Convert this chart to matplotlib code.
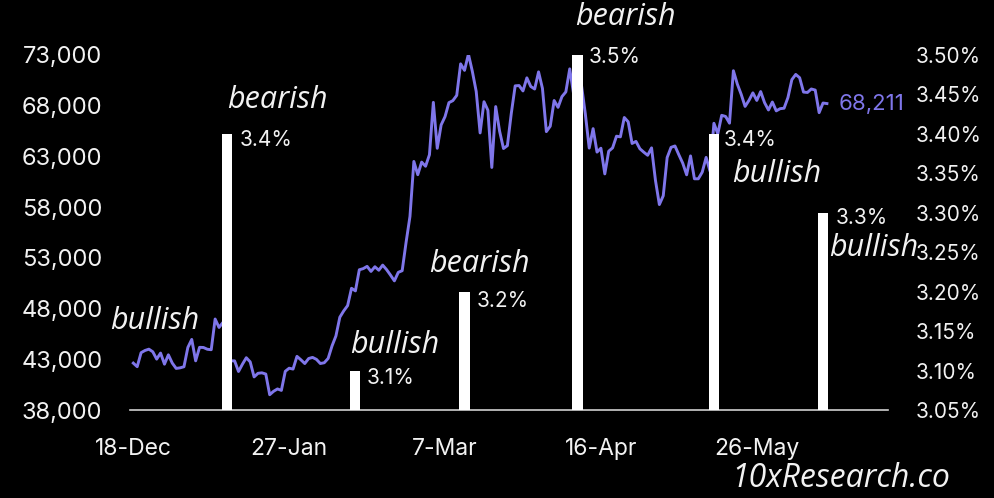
import matplotlib
matplotlib.use('Agg')
import matplotlib.pyplot as plt
import matplotlib.ticker as mticker
import pandas as pd

plt.rcParams['font.family'] = ['Inter', 'DejaVu Sans']

# BTC daily price, 18-Dec-2023 .. 13-Jun-2024
dates = pd.date_range('2023-12-18', '2024-06-13', freq='D')
btc = [
    42623, 42270, 43652, 43869, 43997, 43740, 43016, 43613, 42520, 43442, 42627, 42099, 42156, 42265,
    44167, 44957, 42848, 44179, 44162, 43989, 43943, 46970, 46139, 46627, 46368, 42853, 42842, 41796,
    42511, 43154, 42742, 41262, 41618, 41665, 41545, 39507, 39845, 40077, 39934, 41816, 42120, 42035,
    43288, 42952, 42582,
    43075, 43185, 42992, 42583, 42658, 43084, 44318, 45301, 47147, 47771, 48293, 50000, 49742, 51826,
    51938, 52160, 51663, 52122, 51779, 52284, 51839, 51304, 50731, 51571, 51733, 54522, 57085, 62504,
    61198,
    62440, 62029, 63168, 68330, 63801, 66106, 66925, 68300, 68498, 69019, 72123, 71482, 73083, 71396,
    69403, 65315, 68391, 67548, 61912, 67913, 65492, 63779, 64062, 67234, 69958, 69987, 69455, 70744,
    69892, 69645, 71333,
    69702, 65446, 65980, 68508, 67837, 68896, 69362, 71631, 69139, 70587, 70060, 67195, 63821, 65738,
    63426, 63811, 61276, 63512, 63843, 64994, 64927, 66837, 66408, 64276, 64482, 63755, 63419, 63113,
    63842, 60636,
    58254, 59123, 62889, 63892, 64031, 63162, 62334, 61187, 63049, 60793, 60794, 61448, 62901, 61553,
    66267, 65231, 67051, 66940, 66278, 71448, 70137, 69122, 67929, 68526, 69266, 68518, 69394, 68296,
    67578, 68364, 67491,
    67706, 67751, 68804, 70567, 71082, 70757, 69342, 69305, 69648, 69540, 67314, 68263, 68211,
]

# CPI prints (YoY %) and market reaction
cpi_dates = pd.to_datetime(['2024-01-11', '2024-02-13', '2024-03-12',
                            '2024-04-10', '2024-05-15', '2024-06-12'])
cpi_values = [3.4, 3.1, 3.2, 3.5, 3.4, 3.3]
cpi_tags = ['bearish', 'bullish', 'bearish', 'bearish', 'bullish', 'bullish']
first_tag = 'bullish'

xtick_dates = pd.to_datetime(['2023-12-18', '2024-01-27', '2024-03-07', '2024-04-16', '2024-05-26'])
xtick_labels = ['18-Dec', '27-Jan', '7-Mar', '16-Apr', '26-May']
left_ticks = [38000, 43000, 48000, 53000, 58000, 63000, 68000, 73000]
right_ticks = [3.05, 3.10, 3.15, 3.20, 3.25, 3.30, 3.35, 3.40, 3.45, 3.50]

# label placement (pixel offsets from the bar top)
value_offsets = [(13, -6), (11, -7), (12, -9), (11, -2), (10, -6), (13, -5)]
tag_offsets = [(0, 34), (-5, 26), (-35, 28), (-2, 38), (18, -40), (6, -35)]

purple = '#7f76ea'
txt = '#f2f2f2'
tag_font = ['Open Sans', 'Lato', 'DejaVu Sans']

fig = plt.figure(figsize=(9.94, 4.98), dpi=100, facecolor='black')
ax = fig.add_axes([0.131, 0.1767, 0.762, 0.7129])
ax.set_facecolor('black')
ax2 = ax.twinx()

ax.plot(dates, btc, color=purple, lw=2.1, zorder=2, solid_joinstyle='round')
ax.set_ylim(38000, 73000)
ax.set_yticks(left_ticks)
ax.yaxis.set_major_formatter(mticker.FuncFormatter(lambda v, p: f'{v:,.0f}'))
ax.set_xlim(pd.Timestamp('2023-12-17 05:00'), pd.Timestamp('2024-06-28 14:00'))
ax.set_xticks(xtick_dates)
ax.set_xticklabels(xtick_labels)

ax2.bar(cpi_dates, [v - 3.05 for v in cpi_values], bottom=3.05, width=2.6,
        color='white', zorder=3)
ax2.set_ylim(3.05, 3.50)
ax2.set_yticks(right_ticks)
ax2.yaxis.set_major_formatter(mticker.FuncFormatter(lambda v, p: f'{v:.2f}%'))

for a in (ax, ax2):
    for s in a.spines.values():
        s.set_visible(False)
    a.tick_params(length=0, colors=txt)
ax.spines['bottom'].set_visible(True)
ax.spines['bottom'].set_color('#d0d0d0')
ax.spines['bottom'].set_linewidth(1.2)
ax.tick_params(axis='x', pad=20, labelsize=16.5)
ax.tick_params(axis='y', pad=20, labelsize=17)
ax2.tick_params(axis='y', pad=20, labelsize=15)

for d, v, tag, vo, to in zip(cpi_dates, cpi_values, cpi_tags, value_offsets, tag_offsets):
    ax2.annotate(f'{v:.1f}%', (d, v), xytext=vo, textcoords='offset pixels',
                 ha='left', va='center', color=txt, fontsize=15)
    ax2.annotate(tag, (d, v), xytext=to, textcoords='offset pixels',
                 ha='left', va='center', color=txt, fontsize=22, style='italic',
                 family=tag_font)

ax.annotate(first_tag, (dates[0], btc[0]), xytext=(-23, 42), textcoords='offset pixels',
            ha='left', va='center', color=txt, fontsize=22, style='italic', family=tag_font)
ax.annotate(f'{btc[-1]:,}', (dates[-1], btc[-1]), xytext=(12, 0), textcoords='offset pixels',
            ha='left', va='center', color=purple, fontsize=16)

fig.text(0.956, 0.04, '10xResearch.co', ha='right', va='center', color=txt,
         fontsize=23, style='italic', family=tag_font)

fig.savefig('out.png', dpi=100, facecolor='black')
